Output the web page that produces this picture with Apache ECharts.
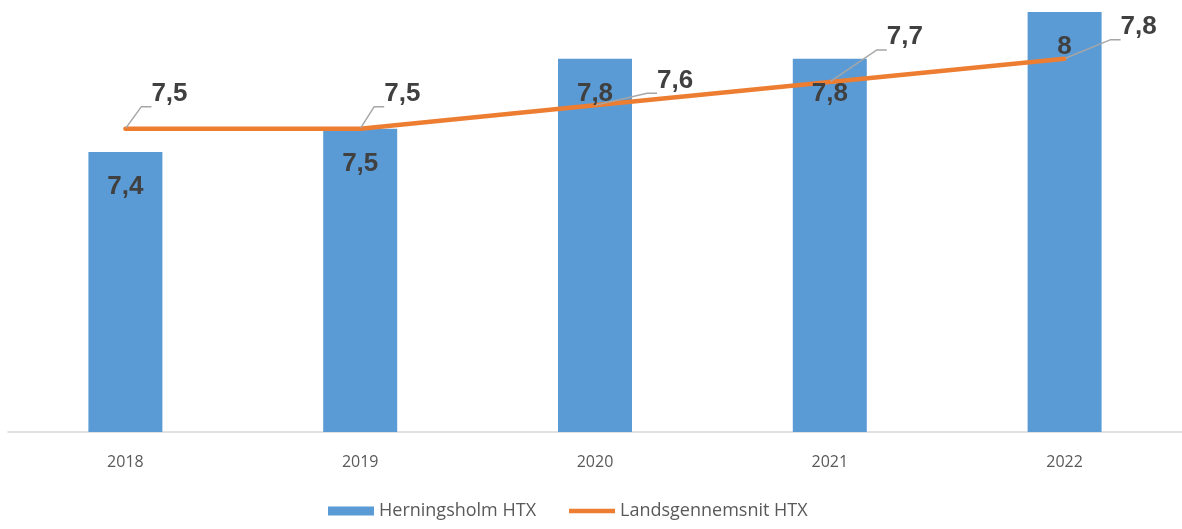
<!DOCTYPE html>
<html>
<head>
<meta charset="utf-8">
<script src="https://cdn.jsdelivr.net/npm/echarts@6/dist/echarts.min.js"></script>
<style>
  html, body { margin: 0; padding: 0; background: #fff; }
  #chart { width: 1182px; height: 529px; }
</style>
</head>
<body>
<div id="chart"></div>
<script>
const years = ['2018', '2019', '2020', '2021', '2022'];
const herningsholm = [7.4, 7.5, 7.8, 7.8, 8];
const landsgennemsnit = [7.5, 7.5, 7.6, 7.7, 7.8];

// offsets for the callout labels on the line
const lineLabelOffsets = [[20, -35], [18, -35], [56, -25], [51, -45], [50, -32]];

const fmt = (v) => String(v).replace('.', ',');
const font = 'Liberation Sans, Arial, sans-serif';
const labelFont = {
  fontFamily: font,
  fontSize: 26,
  fontWeight: 'bold',
  color: '#404040'
};

const chart = echarts.init(document.getElementById('chart'));

const option = {
  animation: false,
  backgroundColor: '#ffffff',
  grid: { left: 8, right: 0, top: 12, bottom: 97 },
  legend: {
    bottom: 4,
    left: 323,
    itemGap: 33,
    itemWidth: 46,
    itemHeight: 9,
    textStyle: { fontFamily: 'Open Sans, sans-serif', fontSize: 18, color: '#595959' },
    data: [
      { name: 'Herningsholm HTX', icon: 'rect' },
      { name: 'Landsgennemsnit HTX', icon: 'path://M0,0 L100,0 L100,10 L0,10 Z', itemStyle: { color: '#ED7D31', opacity: 1 } }
    ]
  },
  xAxis: {
    type: 'category',
    data: years,
    axisLine: { lineStyle: { color: '#d9d9d9', width: 1.5 } },
    axisTick: { show: false },
    axisLabel: { fontFamily: 'Open Sans, sans-serif', fontSize: 16, color: '#595959', margin: 22 }
  },
  yAxis: {
    type: 'value',
    min: 6.2,
    max: 8.0,
    show: false,
    splitLine: { show: false }
  },
  series: [
    {
      name: 'Herningsholm HTX',
      type: 'bar',
      data: herningsholm,
      barWidth: 74,
      z: 1,
      itemStyle: { color: '#5B9BD5' }
    },
    {
      name: 'Landsgennemsnit HTX',
      type: 'line',
      z: 2,
      data: landsgennemsnit.map((v, i) => ({
        value: v,
        label: { offset: lineLabelOffsets[i] }
      })),
      symbol: 'circle',
      symbolSize: 2,
      lineStyle: { color: '#ED7D31', width: 4.5, cap: 'round' },
      itemStyle: { color: '#ED7D31' },
      label: Object.assign({
        show: true,
        position: 'right',
        distance: 5,
        formatter: (p) => fmt(p.value)
      }, labelFont),
      labelLine: {
        show: true,
        length2: 10,
        lineStyle: { color: '#a6a6a6', width: 1.5 }
      }
    },
    {
      // bar value labels, drawn above the line
      name: 'barLabels',
      type: 'bar',
      data: herningsholm,
      barWidth: 74,
      barGap: '-100%',
      z: 5,
      silent: true,
      itemStyle: { color: 'rgba(0,0,0,0)' },
      label: Object.assign({
        show: true,
        position: 'insideTop',
        distance: 22,
        formatter: (p) => fmt(p.value)
      }, labelFont)
    }
  ]
};

chart.setOption(option);
</script>
</body>
</html>
